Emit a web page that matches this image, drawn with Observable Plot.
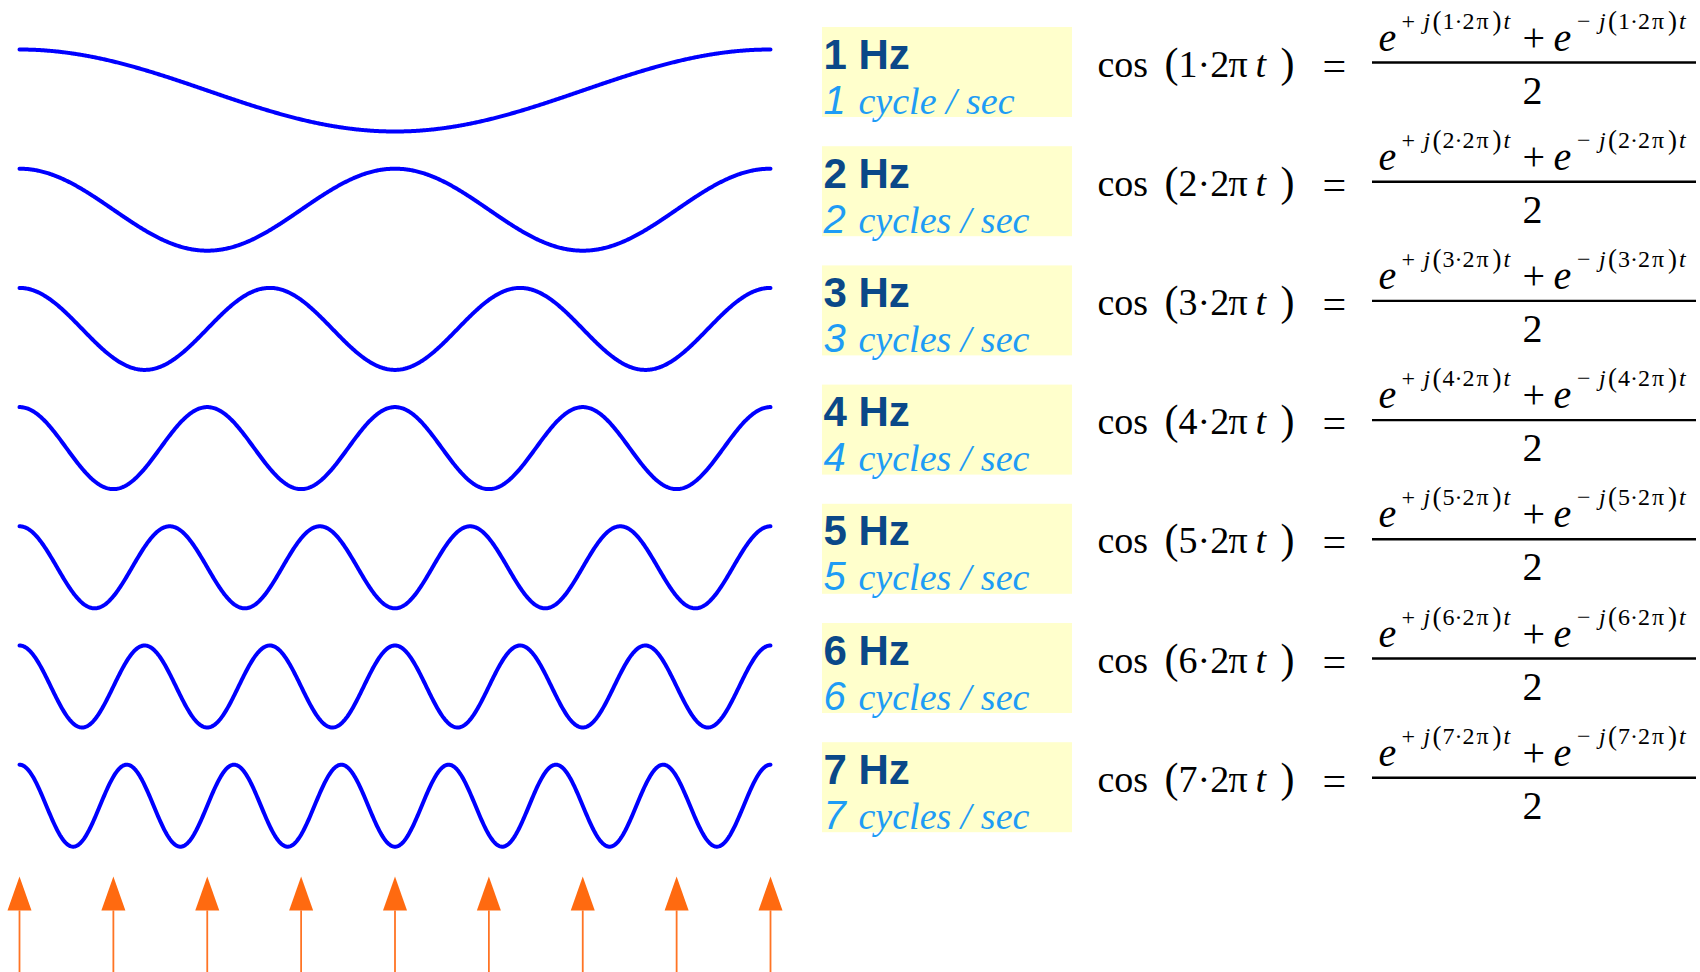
<!DOCTYPE html>
<html>
<head>
<meta charset="utf-8">
<script src="https://cdn.jsdelivr.net/npm/d3@7"></script>
<script src="https://cdn.jsdelivr.net/npm/@observablehq/plot@0.6"></script>
<style>
  html, body { margin: 0; padding: 0; background: #fff; }
  #chart svg { display: block; }
</style>
</head>
<body>
<div id="chart"></div>
<script>
// ---------- data ----------
const frequencies = [1, 2, 3, 4, 5, 6, 7];                 // Hz, one row each
const hzLabels = frequencies.map(f => `${f} Hz`);
const cycleWords = frequencies.map(f => (f === 1 ? "cycle / sec" : "cycles / sec"));
const sampleTimes = [0, 0.125, 0.25, 0.375, 0.5, 0.625, 0.75, 0.875, 1]; // arrow positions (s)
const sampleRow = 8;

// ---------- layout ----------
const W = 1700, H = 972;
const ROW0 = 90, ROWH = 119.2;     // pixel centre of row 1, row pitch
const AMP = 41;                    // wave amplitude in px
const px = p => p / ROWH;          // pixels -> row units

const rows = frequencies.map((f, i) => ({ f, row: i + 1, hz: hzLabels[i], word: cycleWords[i] }));
const wave = rows.flatMap(d =>
  d3.range(0, 801).map(k => {
    const t = k / 800;
    return { f: d.f, t, y: d.row - px(AMP) * Math.cos(2 * Math.PI * d.f * t) };
  })
);
const samples = sampleTimes.map(t => ({ t, row: sampleRow }));

const SERIF = "Liberation Serif, Times New Roman, serif";
const SANS = "Liberation Sans, Arial, sans-serif";
const DARK = "#0a4888";
const LIGHT = "#1e9cf5";

// text piece helper: all rows share x positions
function piece(text, x, dy, size, o = {}) {
  return Plot.text(rows, {
    y: "row",
    frameAnchor: "left",
    dx: x,
    dy,
    text,
    fontSize: size,
    fontFamily: o.family || SERIF,
    fontStyle: o.italic ? "italic" : "normal",
    fontWeight: o.bold ? "bold" : "normal",
    fill: o.fill || "#000",
    textAnchor: o.anchor || "start",
    lineAnchor: "bottom"
  });
}

const num = d => String(d.f);

// superscript pieces (x positions for the "+j" term; the "-j" term is shifted)
function superscript(sign, shift) {
  const b = -62, s = 24;
  return [
    piece(() => sign, 1401 + shift, b, s),
    piece(() => "j", 1423 + shift, b, s, { italic: true }),
    piece(() => "(", 1432 + shift, b + 1, 27),
    piece(d => `${d.f}·2`, 1442 + shift, b, s),
    piece(() => "π", 1476 + shift, b, s),
    piece(() => ")", 1492 + shift, b + 1, 27),
    piece(() => "t", 1503 + shift, b, s, { italic: true })
  ];
}

const triangle = {
  draw(context) {
    context.moveTo(0, -34);
    context.lineTo(12, 0);
    context.lineTo(-12, 0);
    context.closePath();
  }
};

const chart = Plot.plot({
  width: W,
  height: H,
  margin: 0,
  x: { domain: [0, 1], range: [19, 770], axis: null },
  y: { domain: [1 - ROW0 / ROWH, 1 + (H - ROW0) / ROWH], range: [0, H], axis: null },
  style: { background: "#fff" },
  marks: [
    // cosine waves
    Plot.line(wave, { x: "t", y: "y", z: "f", stroke: "#0000ff", strokeWidth: 4, curve: "linear" }),

    // sample arrows
    Plot.ruleX(samples, {
      x: "t",
      y1: d => d.row + px(-14),
      y2: d => d.row + px(60),
      stroke: "#ff7424",
      strokeWidth: 1.8
    }),
    Plot.dot(samples, {
      x: "t",
      y: d => d.row + px(-14.4),
      symbol: triangle,
      r: 10,
      fill: "#ff6a10",
      stroke: "none"
    }),

    // yellow label boxes
    Plot.rect(rows, {
      y1: d => d.row + px(-63),
      y2: d => d.row + px(27),
      insetLeft: 822,
      insetRight: W - 1072,
      fill: "#ffffcc"
    }),
    piece("hz", 823, -22, 42, { family: SANS, bold: true, fill: DARK }),
    piece(num, 823, 23, 40, { family: SANS, italic: true, fill: LIGHT }),
    piece("word", 858, 23, 38, { italic: true, fill: LIGHT }),

    // cos ( n·2 π t ) =
    piece(() => "cos", 1097, -14, 38),
    piece(() => "(", 1164, -14, 42),
    piece(d => `${d.f}·2`, 1178, -14, 38),
    piece(() => "π", 1228, -14, 38),
    piece(() => "t", 1255, -14, 38, { italic: true }),
    piece(() => ")", 1280, -14, 42),
    piece(() => "=", 1322, -11, 42),

    // fraction
    piece(() => "e", 1378, -40, 40, { italic: true }),
    ...superscript("+", 0),
    piece(() => "+", 1522, -40, 40),
    piece(() => "e", 1553, -40, 40, { italic: true }),
    ...superscript("−", 175.5),
    Plot.ruleY(rows, {
      y: d => d.row + px(-28),
      insetLeft: 1372,
      insetRight: 4,
      stroke: "#000",
      strokeWidth: 2.4
    }),
    piece(() => "2", 1532, 13, 40, { anchor: "middle" })
  ]
});

document.getElementById("chart").appendChild(chart);
</script>
</body>
</html>
